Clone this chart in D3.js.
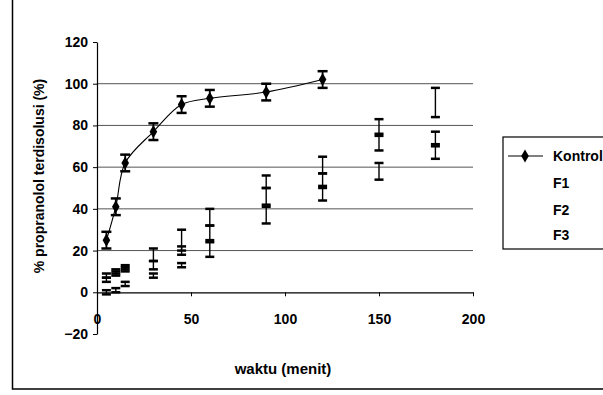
<!DOCTYPE html>
<html>
<head>
<meta charset="utf-8">
<script src="https://cdn.jsdelivr.net/npm/d3@7"></script>
<style>
  body { margin: 0; background: #fff; }
  svg { display: block; font-family: "Liberation Sans", Arial, sans-serif; font-weight: bold; }
</style>
</head>
<body>
<div id="chart"></div>
<script>
// dissolution data
const times = [5, 10, 15, 30, 45, 60, 90, 120, 150, 180]
const kontrolTimes = [5, 10, 15, 30, 45, 60, 90, 120]
const kontrol = [25, 41, 62, 77, 90, 93, 96, 102]
const kontrolErr = [4, 4, 4, 4, 4, 4, 4, 4]
const f1 = [8, 10, 12, 18, 25, 36, 53, 61, 79, 91]
const f1Err = [1, 1, 1, 3, 5, 4, 3, 4, 4, 7]
const f2 = [6, 9, 11, 13, 20, 28, 46, 54, 72, 74]
const f2Err = [1, 1, 1, 2, 2, 4, 4, 3, 4, 3]
const f3 = [0, 1, 4, 8, 13, 21, 37, 47, 58, 67]
const f3Err = [1, 1, 1, 1, 1, 4, 4, 3, 4, 3]
const xTicks = [0, 50, 100, 150, 200]
const yTicks = [-20, 0, 20, 40, 60, 80, 100, 120]
const legendNames = ['Kontrol', 'F1', 'F2', 'F3']

const width = 603
const height = 395

const svg = d3.select('#chart')
  .append('svg')
  .attr('width', width)
  .attr('height', height)

// outer chart frame (top edge runs off the scan)
svg.append('rect')
  .attr('x', 12.5).attr('y', -5)
  .attr('width', 640).attr('height', 394)
  .attr('fill', 'none')
  .attr('stroke', '#000')
  .attr('stroke-width', 1.5)

const x = d3.scaleLinear().domain([0, 200]).range([97, 473])
const y = d3.scaleLinear().domain([-20, 120]).range([334, 42])

// gridlines
svg.append('g')
  .selectAll('line')
  .data(yTicks.filter(d => d > 0 && d < 120))
  .enter()
  .append('line')
  .attr('x1', x(0)).attr('x2', x(200))
  .attr('y1', d => y(d)).attr('y2', d => y(d))
  .attr('stroke', '#555')
  .attr('stroke-width', 1)

// y axis
const yAxis = svg.append('g')
  .attr('transform', 'translate(' + x(0) + ',0)')
  .call(d3.axisLeft(y).tickValues(yTicks).tickSize(4).tickPadding(5).tickSizeOuter(0))
yAxis.select('.domain').attr('stroke-width', 1.2)
yAxis.selectAll('text').style('font-size', '14px').style('font-weight', 'bold').attr('fill', '#000')

// x axis sits on y = 0
const xAxis = svg.append('g')
  .attr('transform', 'translate(0,' + y(0) + ')')
  .call(d3.axisBottom(x).tickValues(xTicks).tickSize(4).tickPadding(18).tickSizeOuter(0))
xAxis.select('.domain').attr('stroke-width', 1.2)
xAxis.selectAll('text').style('font-size', '14px').style('font-weight', 'bold').attr('fill', '#000')

// axis titles
svg.append('text')
  .attr('transform', 'translate(44,176) rotate(-90)')
  .attr('text-anchor', 'middle')
  .style('font-size', '14px')
  .text('% propranolol terdisolusi (%)')

svg.append('text')
  .attr('x', 283).attr('y', 374)
  .attr('text-anchor', 'middle')
  .style('font-size', '15px')
  .text('waktu (menit)')

// error bars helper
function errorBars(ts, vals, errs, cap, sw, lw) {
  const g = svg.append('g').attr('stroke', '#000')
  ts.forEach((t, i) => {
    const cx = x(t)
    const top = y(vals[i] + errs[i])
    const bot = y(vals[i] - errs[i])
    g.append('line').attr('x1', cx).attr('x2', cx).attr('y1', top).attr('y2', bot).attr('stroke-width', lw)
    g.append('line').attr('x1', cx - cap).attr('x2', cx + cap).attr('y1', top).attr('y2', top).attr('stroke-width', sw)
    g.append('line').attr('x1', cx - cap).attr('x2', cx + cap).attr('y1', bot).attr('y2', bot).attr('stroke-width', sw)
  })
}

// F1-F3: markers printed too light to survive the scan, only the bars show
errorBars(times, f1, f1Err, 4.5, 2.5, 1.4)
errorBars(times, f2, f2Err, 4.5, 2.5, 1.4)
errorBars(times, f3, f3Err, 4.5, 2.5, 1.4)

// Kontrol series: smoothed line, diamonds, error bars
const kontrolData = kontrolTimes.map((t, i) => ({ t: t, v: kontrol[i] }))
svg.append('path')
  .datum(kontrolData)
  .attr('d', d3.line().x(d => x(d.t)).y(d => y(d.v)).curve(d3.curveCatmullRom))
  .attr('fill', 'none')
  .attr('stroke', '#000')
  .attr('stroke-width', 1.1)

errorBars(kontrolTimes, kontrol, kontrolErr, 5, 2.5, 1.8)

const diamond = d3.symbol().type(d3.symbolDiamond).size(50)
svg.append('g')
  .selectAll('path')
  .data(kontrolData)
  .enter()
  .append('path')
  .attr('d', diamond)
  .attr('transform', d => 'translate(' + x(d.t) + ',' + y(d.v) + ')')
  .attr('fill', '#000')

// legend
const legend = svg.append('g')
legend.append('rect')
  .attr('x', 503).attr('y', 137)
  .attr('width', 140).attr('height', 112)
  .attr('fill', '#fff')
  .attr('stroke', '#000')
  .attr('stroke-width', 1.2)

const legendY = [156, 183, 210, 235]
legend.append('line')
  .attr('x1', 508).attr('x2', 543)
  .attr('y1', legendY[0]).attr('y2', legendY[0])
  .attr('stroke', '#000').attr('stroke-width', 1.2)
legend.append('path')
  .attr('d', diamond)
  .attr('transform', 'translate(525,' + legendY[0] + ')')
  .attr('fill', '#000')

legend.selectAll('text')
  .data(legendNames)
  .enter()
  .append('text')
  .attr('x', 553)
  .attr('y', (d, i) => legendY[i] + 5)
  .style('font-size', '14px')
  .text(d => d)
</script>
</body>
</html>
